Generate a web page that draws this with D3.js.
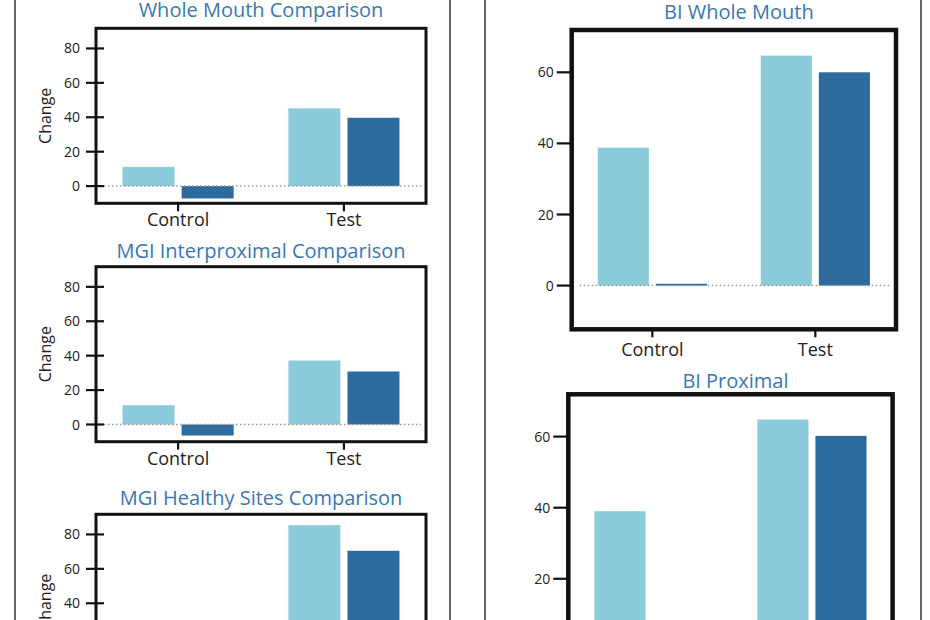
<!DOCTYPE html>
<html>
<head>
<meta charset="utf-8">
<title>Change comparison</title>
<script src="https://cdn.jsdelivr.net/npm/d3@7"></script>
<style>
  html, body { margin: 0; padding: 0; background: #fff; }
  svg { display: block; font-family: "Open Sans", sans-serif; }
</style>
</head>
<body>
<div id="chart"></div>
<script>
// values, per category: [light series, dark series]
const categories = ["Control", "Test"];
const seriesNames = ["Group A", "Group B"];
const chartTitles = ["Whole Mouth Comparison", "MGI Interproximal Comparison", "MGI Healthy Sites Comparison", "BI Whole Mouth", "BI Proximal"];
const wholeMouthValues = [[11.2, -7.2], [45.2, 39.7]];
const mgiInterproximalValues = [[11.2, -6.4], [37.2, 30.8]];
const mgiHealthySitesValues = [[12, -5], [85.4, 70.5]];
const biWholeMouthValues = [[38.8, 0.5], [64.7, 60]];
const biProximalValues = [[39, 0.5], [64.8, 60.2]];
const leftTicks = [0, 20, 40, 60, 80];
const rightTicks = [0, 20, 40, 60];

var colors = ["#8bcbdb", "#2d6a9e"];
var titleColor = "#3a77b3";

var svg = d3.select("#chart")
  .append("svg")
  .attr("width", 930)
  .attr("height", 620)
  .attr("viewBox", [0, 0, 930, 620]);

// the two panel outlines
svg.append("rect").attr("x", 15).attr("y", -10).attr("width", 435).attr("height", 650)
  .attr("fill", "none").attr("stroke", "#333").attr("stroke-width", 1.5);
svg.append("rect").attr("x", 485).attr("y", -10).attr("width", 436).attr("height", 650)
  .attr("fill", "none").attr("stroke", "#333").attr("stroke-width", 1.5);

var charts = [
  {title: chartTitles[0], values: wholeMouthValues, left: true, x: 96, y: 28.3, w: 330, h: 175, titleY: 17, ticks: leftTicks, domain: [-10, 91.7]},
  {title: chartTitles[1], values: mgiInterproximalValues, left: true, x: 96, y: 266.7, w: 330, h: 175, titleY: 258, ticks: leftTicks, domain: [-10, 91.7]},
  {title: chartTitles[2], values: mgiHealthySitesValues, left: true, x: 96, y: 514.3, w: 330, h: 175, titleY: 505, ticks: leftTicks, domain: [-10, 91.7]},
  {title: chartTitles[3], values: biWholeMouthValues, left: false, x: 571.7, y: 30, w: 324.3, h: 299.3, titleY: 19, ticks: rightTicks, domain: [-12.3, 71.9]},
  {title: chartTitles[4], values: biProximalValues, left: false, x: 568.3, y: 394.3, w: 324.3, h: 299.3, titleY: 388, ticks: rightTicks, domain: [-12.3, 71.9]}
];

charts.forEach(function(c) {
  var g = svg.append("g");

  var x = d3.scaleBand()
    .domain(categories)
    .range([c.x, c.x + c.w])
    .paddingInner(0.33)
    .paddingOuter(0.16);

  var xs = d3.scaleBand()
    .domain(seriesNames)
    .range([0, x.bandwidth()])
    .paddingInner(0.12);

  var y = d3.scaleLinear()
    .domain(c.domain)
    .range([c.y + c.h, c.y]);

  var rows = [];
  categories.forEach(function(cat, i) {
    seriesNames.forEach(function(s, j) {
      rows.push({cat: cat, series: s, idx: j, value: c.values[i][j]});
    });
  });

  g.selectAll("rect.bar")
    .data(rows)
    .join("rect")
      .attr("class", "bar")
      .attr("x", d => x(d.cat) + xs(d.series))
      .attr("width", xs.bandwidth())
      .attr("y", d => y(Math.max(0, d.value)))
      .attr("height", d => Math.abs(y(d.value) - y(0)))
      .attr("fill", d => colors[d.idx]);

  // dotted zero line
  g.append("line")
    .attr("x1", c.x + 8).attr("x2", c.x + c.w - 5)
    .attr("y1", y(0)).attr("y2", y(0))
    .attr("stroke", "#9a9a9a")
    .attr("stroke-width", 1.5)
    .attr("stroke-dasharray", "1.5,2.5");

  // frame
  g.append("rect")
    .attr("x", c.x).attr("y", c.y)
    .attr("width", c.w).attr("height", c.h)
    .attr("fill", "none")
    .attr("stroke", "#111")
    .attr("stroke-width", c.left ? 3 : 4.5);

  // y ticks
  var tickIn = c.left ? 8 : 0;
  var tickOut = c.left ? 10 : 15;
  var yTick = g.selectAll("g.ytick")
    .data(c.ticks)
    .join("g")
      .attr("class", "ytick")
      .attr("transform", d => `translate(0,${y(d)})`);

  yTick.append("line")
    .attr("x1", c.x - tickOut).attr("x2", c.x + tickIn)
    .attr("stroke", "#111")
    .attr("stroke-width", 2.2);

  yTick.append("text")
    .attr("x", c.x - (c.left ? 16 : 18))
    .attr("dy", "0.36em")
    .attr("text-anchor", "end")
    .attr("font-size", 14)
    .attr("fill", "#222")
    .text(d => d);

  // x ticks and labels
  var xTick = g.selectAll("g.xtick")
    .data(categories)
    .join("g")
      .attr("class", "xtick")
      .attr("transform", d => `translate(${x(d) + x.bandwidth() / 2},${c.y + c.h})`);

  xTick.append("line")
    .attr("y1", 0).attr("y2", 8)
    .attr("stroke", "#111")
    .attr("stroke-width", 2.2);

  xTick.append("text")
    .attr("y", c.left ? 23 : 27)
    .attr("text-anchor", "middle")
    .attr("font-size", 18)
    .attr("fill", "#222")
    .text(d => d);

  if (c.left) {
    g.append("text")
      .attr("transform", `translate(51,${c.y + c.h / 2}) rotate(-90)`)
      .attr("text-anchor", "middle")
      .attr("font-size", 16)
      .attr("fill", "#222")
      .text("Change");
  }

  g.append("text")
    .attr("x", c.x + c.w / 2 + (c.left ? 0 : 5))
    .attr("y", c.titleY)
    .attr("text-anchor", "middle")
    .attr("font-size", 20)
    .attr("fill", titleColor)
    .text(c.title);
});
</script>
</body>
</html>
